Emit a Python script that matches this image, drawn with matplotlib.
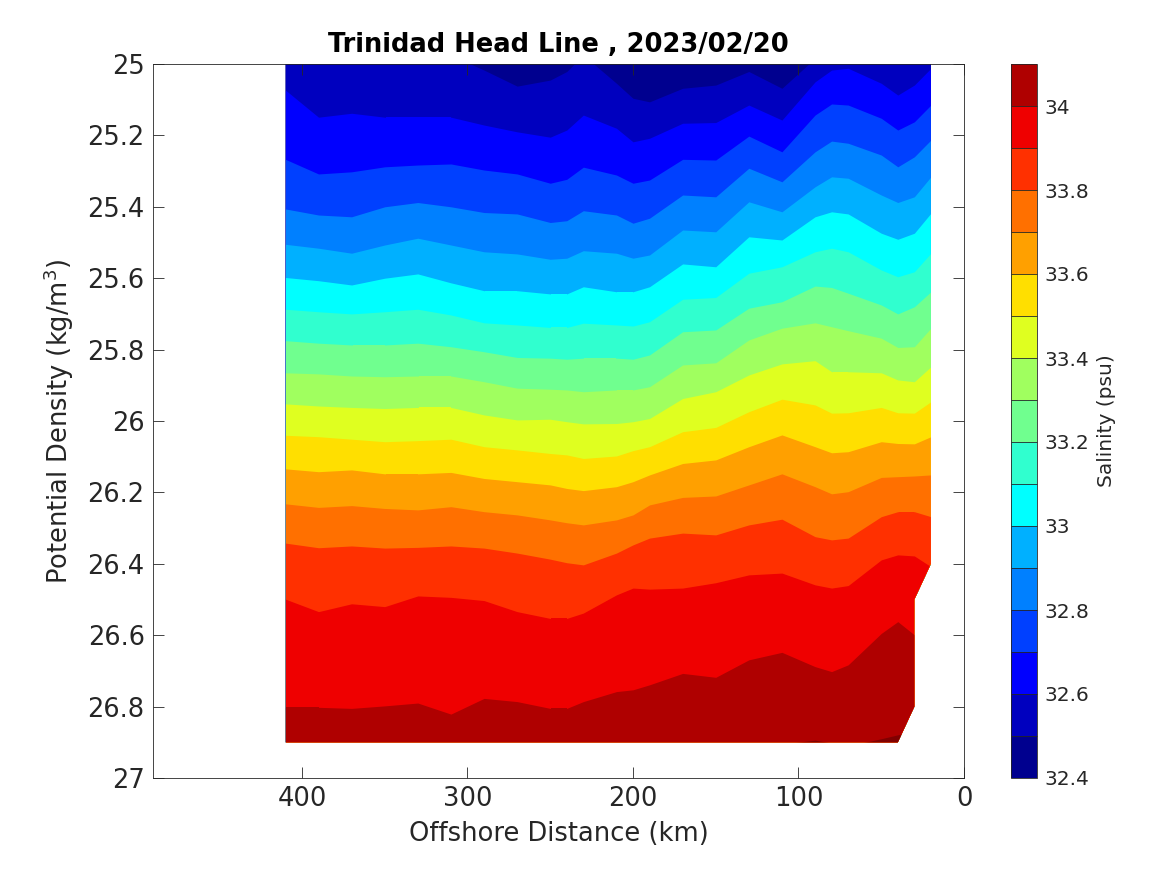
import matplotlib
matplotlib.use("Agg")
import matplotlib.pyplot as plt
from matplotlib.colors import ListedColormap, BoundaryNorm
from matplotlib.cm import ScalarMappable
from matplotlib.patches import Polygon

distance_km = [410, 390, 370, 350, 330, 310, 290, 270, 250, 240, 230, 210, 200,
               190, 170, 150, 130, 110, 90, 80, 70, 50, 40, 30, 20]

salinity_levels = [32.5, 32.6, 32.7, 32.8, 32.9, 33.0, 33.1, 33.2, 33.3, 33.4,
                   33.5, 33.6, 33.7, 33.8, 33.9, 34.0, 34.1]

# Potential density of each salinity isoline at each station
iso_325 = [24.96, 24.96, 24.96, 24.96, 24.965, 24.975, 25.017, 25.062, 25.045, 25.021, 24.975, 25.054, 25.096, 25.106, 25.068, 25.059, 25.021, 25.068, 24.984, 24.96, 24.96, 24.97, 24.97, 24.97, 24.97]
iso_326 = [25.073, 25.149, 25.138, 25.149, 25.149, 25.149, 25.171, 25.190, 25.205, 25.185, 25.143, 25.180, 25.218, 25.208, 25.166, 25.164, 25.115, 25.157, 25.050, 25.017, 25.012, 25.054, 25.087, 25.059, 25.012]
iso_327 = [25.267, 25.308, 25.302, 25.288, 25.283, 25.280, 25.297, 25.308, 25.334, 25.323, 25.289, 25.311, 25.334, 25.325, 25.267, 25.269, 25.202, 25.246, 25.143, 25.112, 25.115, 25.152, 25.185, 25.162, 25.115]
iso_328 = [25.406, 25.423, 25.428, 25.400, 25.388, 25.400, 25.416, 25.420, 25.444, 25.439, 25.411, 25.423, 25.446, 25.432, 25.367, 25.372, 25.292, 25.330, 25.246, 25.216, 25.222, 25.255, 25.288, 25.260, 25.213]
iso_329 = [25.505, 25.516, 25.530, 25.507, 25.488, 25.507, 25.526, 25.532, 25.547, 25.544, 25.523, 25.530, 25.544, 25.535, 25.465, 25.470, 25.386, 25.414, 25.344, 25.316, 25.320, 25.367, 25.388, 25.372, 25.316]
iso_330 = [25.598, 25.607, 25.619, 25.600, 25.588, 25.613, 25.635, 25.635, 25.644, 25.644, 25.624, 25.638, 25.638, 25.624, 25.560, 25.568, 25.484, 25.493, 25.428, 25.414, 25.420, 25.474, 25.491, 25.474, 25.418]
iso_331 = [25.687, 25.694, 25.700, 25.694, 25.687, 25.703, 25.725, 25.731, 25.738, 25.738, 25.726, 25.731, 25.734, 25.722, 25.659, 25.654, 25.586, 25.568, 25.526, 25.516, 25.526, 25.577, 25.596, 25.582, 25.530]
iso_332 = [25.775, 25.782, 25.787, 25.787, 25.782, 25.792, 25.806, 25.822, 25.824, 25.827, 25.824, 25.824, 25.827, 25.815, 25.750, 25.745, 25.684, 25.666, 25.622, 25.626, 25.642, 25.675, 25.700, 25.680, 25.638]
iso_333 = [25.865, 25.868, 25.874, 25.876, 25.874, 25.874, 25.890, 25.908, 25.911, 25.913, 25.918, 25.913, 25.913, 25.904, 25.843, 25.837, 25.773, 25.740, 25.725, 25.736, 25.747, 25.768, 25.794, 25.792, 25.740]
iso_334 = [25.952, 25.958, 25.962, 25.965, 25.962, 25.962, 25.983, 25.997, 25.995, 26.002, 26.008, 26.007, 26.002, 25.993, 25.937, 25.918, 25.871, 25.840, 25.831, 25.862, 25.862, 25.865, 25.885, 25.890, 25.848]
iso_335 = [26.040, 26.044, 26.051, 26.058, 26.055, 26.051, 26.072, 26.081, 26.091, 26.095, 26.105, 26.098, 26.083, 26.072, 26.030, 26.018, 25.974, 25.939, 25.955, 25.978, 25.977, 25.962, 25.977, 25.978, 25.946]
iso_336 = [26.134, 26.142, 26.137, 26.148, 26.148, 26.144, 26.161, 26.170, 26.179, 26.189, 26.195, 26.184, 26.170, 26.151, 26.119, 26.109, 26.072, 26.039, 26.072, 26.089, 26.086, 26.058, 26.063, 26.064, 26.044]
iso_337 = [26.232, 26.242, 26.237, 26.245, 26.249, 26.240, 26.254, 26.263, 26.277, 26.285, 26.291, 26.277, 26.263, 26.235, 26.214, 26.210, 26.179, 26.148, 26.184, 26.204, 26.198, 26.158, 26.156, 26.154, 26.151]
iso_338 = [26.342, 26.355, 26.350, 26.356, 26.354, 26.350, 26.356, 26.370, 26.387, 26.397, 26.403, 26.370, 26.347, 26.328, 26.314, 26.319, 26.291, 26.275, 26.324, 26.333, 26.328, 26.268, 26.254, 26.254, 26.268]
iso_339 = [26.499, 26.534, 26.512, 26.520, 26.490, 26.494, 26.503, 26.534, 26.553, 26.553, 26.538, 26.487, 26.468, 26.471, 26.468, 26.453, 26.431, 26.426, 26.459, 26.468, 26.461, 26.389, 26.375, 26.378, 26.408]
iso_340 = [26.802, 26.802, 26.805, 26.798, 26.790, 26.821, 26.777, 26.786, 26.805, 26.805, 26.786, 26.758, 26.753, 26.739, 26.707, 26.718, 26.669, 26.648, 26.688, 26.702, 26.683, 26.595, 26.562, 26.599, 26.600]
iso_341 = [26.95, 26.95, 26.95, 26.95, 26.95, 26.95, 26.95, 26.95, 26.95, 26.95, 26.95, 26.95, 26.95, 26.95, 26.95, 26.95, 26.95, 26.905, 26.894, 26.902, 26.91, 26.89, 26.879, 26.87, 26.87]

isolines = [iso_325, iso_326, iso_327, iso_328, iso_329, iso_330, iso_331, iso_332,
            iso_333, iso_334, iso_335, iso_336, iso_337, iso_338, iso_339, iso_340, iso_341]

# Outline of the sampled section
section_distance = [410, 20, 20, 30, 30, 40, 410]
section_density = [25.0, 25.0, 26.4, 26.5, 26.8, 26.9, 26.9]

band_colors = ["#00008f", "#0000bf", "#0000ff", "#0040ff", "#0080ff", "#00b0ff", "#00ffff",
               "#30ffcf", "#70ff8f", "#a0ff5f", "#dfff20", "#ffdf00", "#ffa000", "#ff7000",
               "#ff3000", "#ef0000", "#af0000", "#800000"]
colorbar_edges = [32.4, 32.5, 32.6, 32.7, 32.8, 32.9, 33.0, 33.1, 33.2, 33.3, 33.4, 33.5,
                  33.6, 33.7, 33.8, 33.9, 34.0, 34.1]
colorbar_ticks = [32.4, 32.6, 32.8, 33.0, 33.2, 33.4, 33.6, 33.8, 34.0]
x_ticks = [400, 300, 200, 100, 0]
y_ticks = [25, 25.2, 25.4, 25.6, 25.8, 26, 26.2, 26.4, 26.6, 26.8, 27]

INK = "#262626"
W, H = 1167, 875
fig = plt.figure(figsize=(W / 100, H / 100), dpi=100)
ax = fig.add_axes([153 / W, 1 - 778 / H, 811 / W, 714 / H])

outline = Polygon(list(zip(section_distance, section_density)), closed=True,
                  transform=ax.transData, fill=False, edgecolor="none")
ax.add_patch(outline)

base = ax.fill_between(distance_km, 24.9, 27.1, color=band_colors[0], linewidth=0, zorder=1)
base.set_clip_path(outline)
for i, line in enumerate(isolines):
    poly = ax.fill_between(distance_km, line, 27.1, color=band_colors[i + 1], linewidth=0, zorder=1)
    poly.set_clip_path(outline)

ax.set_xlim(490, 0)
ax.set_ylim(27, 25)
ax.set_xticks(x_ticks)
ax.set_yticks(y_ticks)
ax.set_yticklabels(["%g" % v for v in y_ticks])
ax.tick_params(axis="both", direction="in", top=True, right=True, length=8,
               width=0.6, labelsize=18.5, colors=INK, pad=6, zorder=5)
ax.set_axisbelow(False)
for s in ax.spines.values():
    s.set_linewidth(0.6)
    s.set_color(INK)
ax.set_xlabel("Offshore Distance (km)", fontsize=18.5, color=INK, labelpad=6)
ax.set_ylabel("Potential Density (kg/m$^3$)", fontsize=18.5, color=INK, labelpad=8)
ax.set_title("Trinidad Head Line , 2023/02/20", fontsize=18.5, fontweight="bold", color="black", pad=9)

cax = fig.add_axes([1011 / W, 1 - 778 / H, 26 / W, 714 / H])
cmap = ListedColormap(band_colors[:17])
norm = BoundaryNorm(colorbar_edges, cmap.N)
cb = fig.colorbar(ScalarMappable(norm=norm, cmap=cmap), cax=cax, ticks=colorbar_ticks,
                  spacing="proportional", drawedges=True)
cb.dividers.set_color(INK)
cb.dividers.set_linewidth(0.6)
cb.outline.set_edgecolor(INK)
cb.outline.set_linewidth(0.6)
cb.ax.minorticks_off()
cb.ax.tick_params(length=0, labelsize=14.5, labelcolor=INK, pad=5)
cb.ax.set_yticklabels(["%g" % v for v in colorbar_ticks])
cb.set_label("Salinity (psu)", fontsize=14.5, color=INK, labelpad=6)

fig.savefig("out.png", dpi=100, facecolor="white")
